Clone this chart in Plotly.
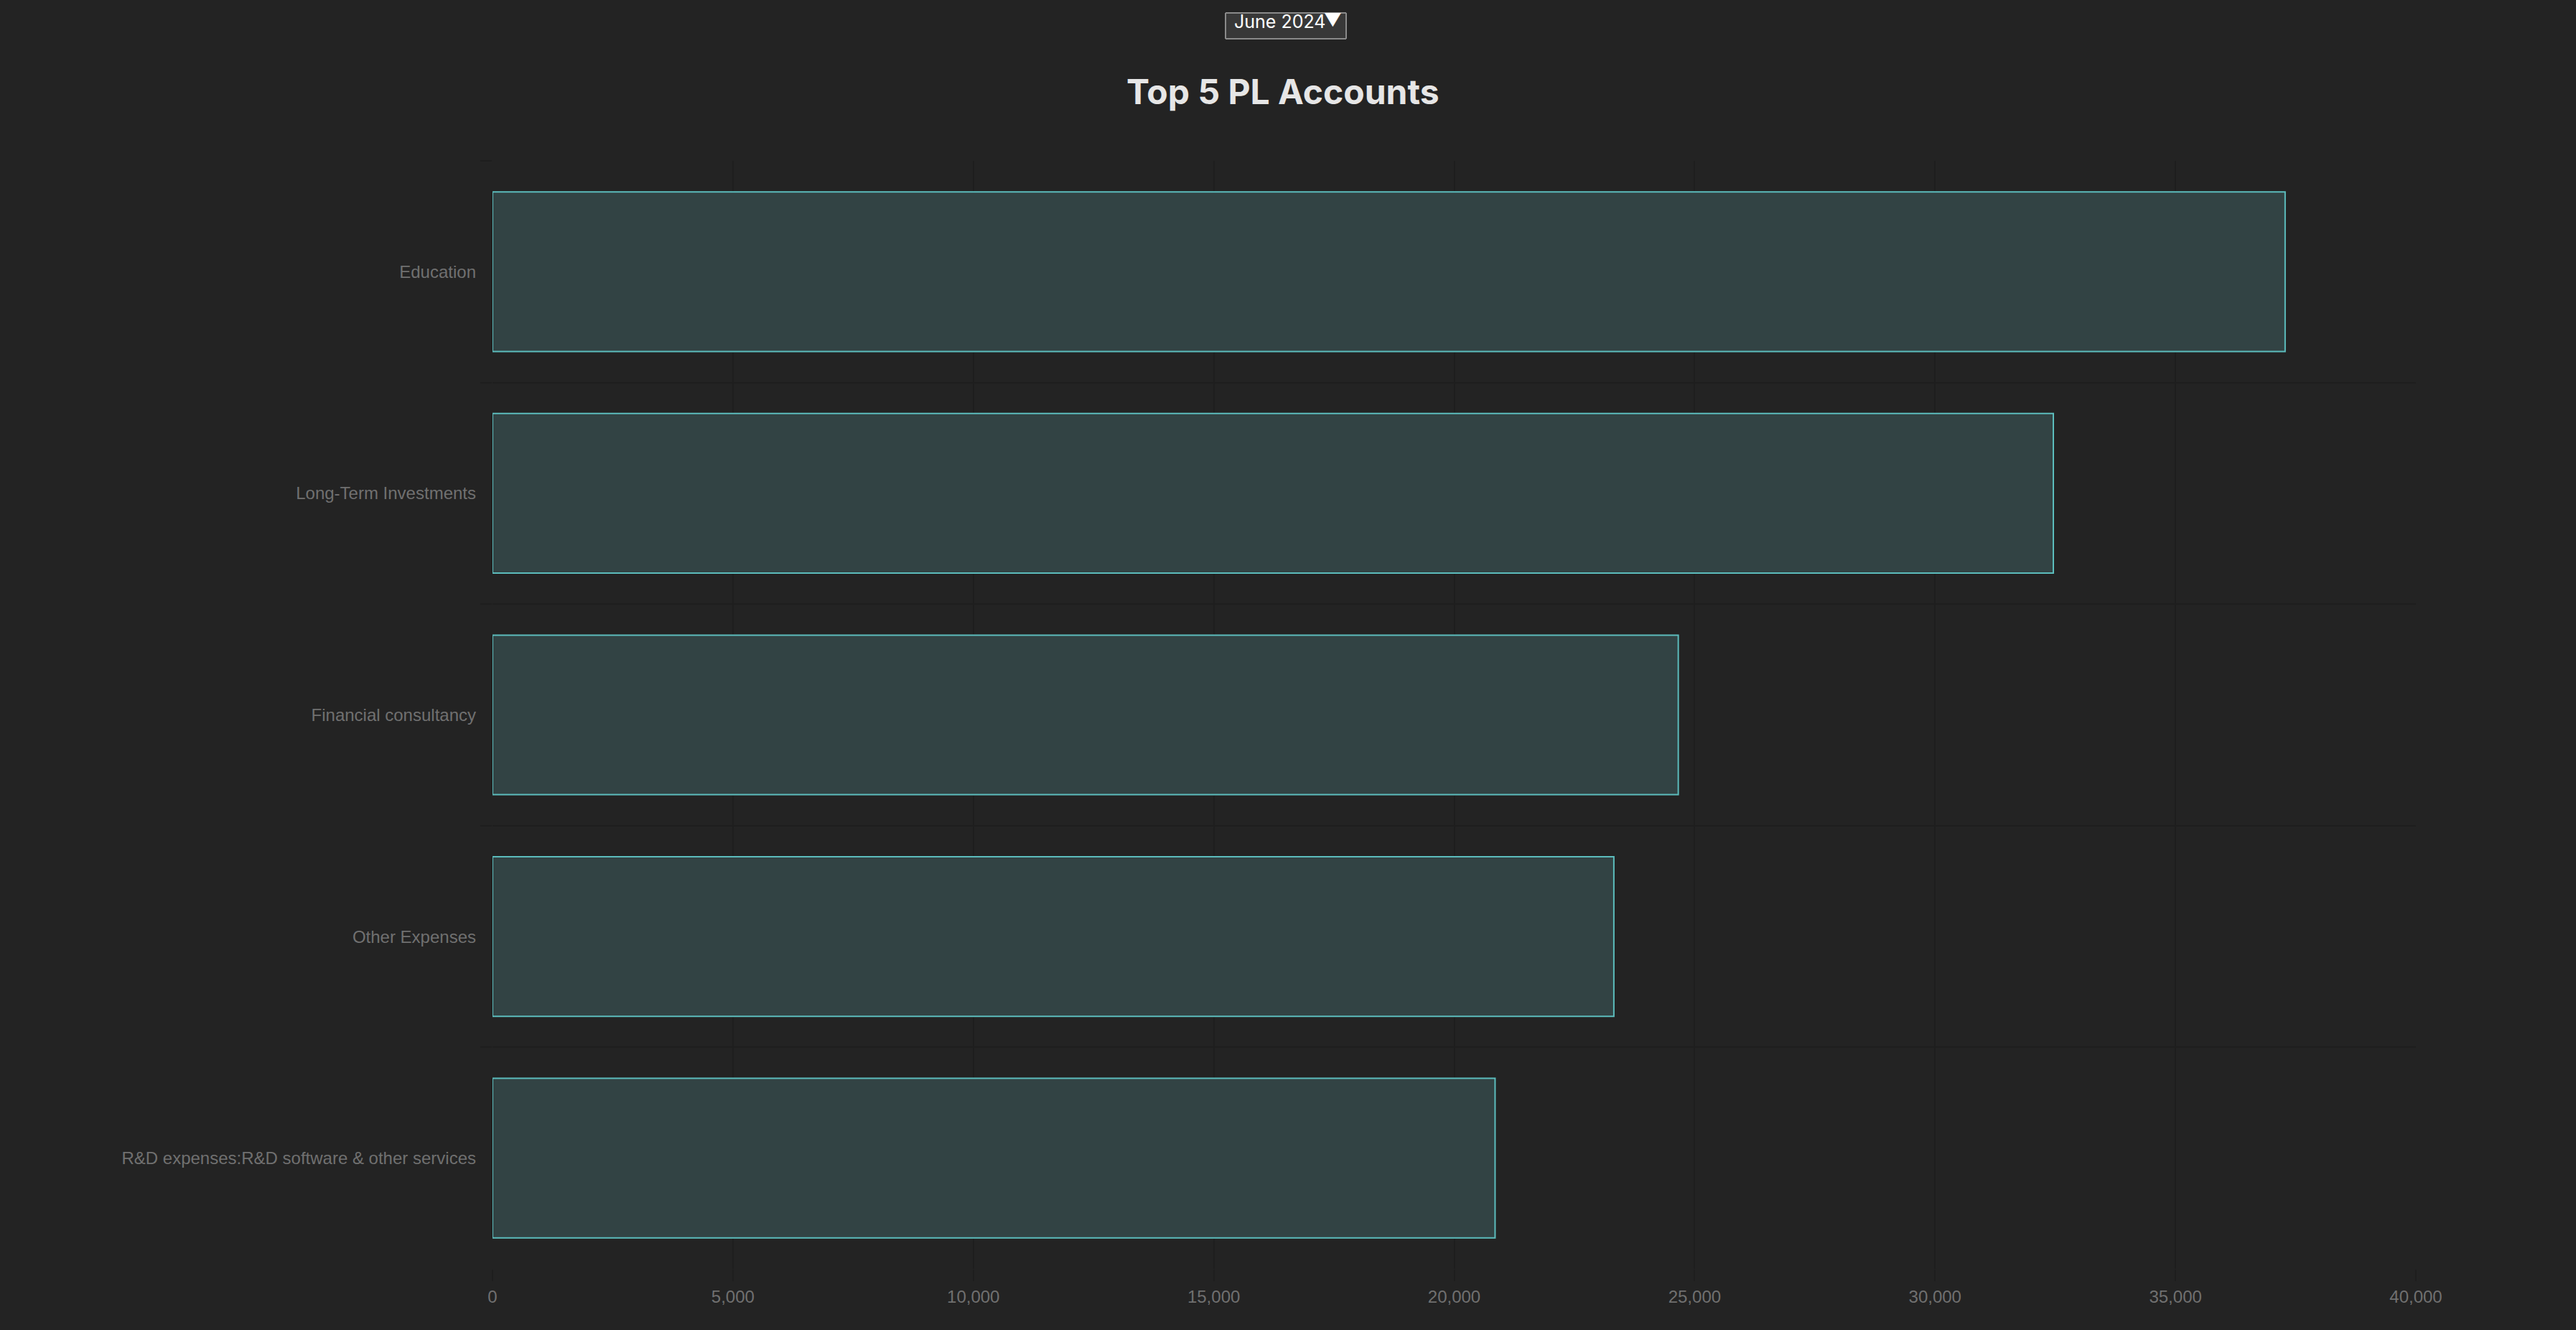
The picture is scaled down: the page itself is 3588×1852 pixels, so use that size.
import plotly.graph_objects as go

categories = ["Education", "Long-Term Investments", "Financial consultancy",
              "Other Expenses", "R&D expenses:R&D software & other services"]
values = [37280, 32460, 24660, 23320, 20850]
x_ticks = [0, 5000, 10000, 15000, 20000, 25000, 30000, 35000, 40000]
x_tick_labels = ["0", "5,000", "10,000", "15,000", "20,000", "25,000", "30,000", "35,000", "40,000"]
period_label = "June 2024"
title_text = "Top 5 PL Accounts"

BG = "#232323"
GRID = "#1e1e1e"
LABEL = "#707070"

W, H = 3588, 1852
ML, MR, MT, MB = 686, 223, 224, 85
PW, PH = W - ML - MR, H - MT - MB

fig = go.Figure(go.Bar(
    x=values, y=categories, orientation="h", width=0.72,
    marker=dict(color="#324344", line=dict(color="#5cbdbd", width=2)),
    hoverinfo="x+y",
))

fig.update_layout(
    width=W, height=H,
    paper_bgcolor=BG, plot_bgcolor=BG,
    margin=dict(l=ML, r=MR, t=MT, b=MB),
    showlegend=False,
    title=dict(text="<b>" + title_text + "</b>", x=0.498, xanchor="center", y=1 - 128/H, yanchor="middle",
               font=dict(family="Inter", size=48, color="#e6e6e6")),
    font=dict(family="Liberation Sans", color=LABEL),
    xaxis=dict(range=[0, 40000], tickvals=x_ticks, ticktext=x_tick_labels,
               showgrid=True, gridcolor=GRID, gridwidth=2, zeroline=False,
               ticks="outside", ticklen=16, tickcolor=GRID, tickwidth=2,
               ticklabelstandoff=1,
               tickfont=dict(size=24, color=LABEL, family="Liberation Sans"),
               showline=False, fixedrange=True),
    yaxis=dict(categoryorder="array", categoryarray=categories, autorange="reversed",
               tickson="boundaries", showgrid=True, gridcolor=GRID, gridwidth=2,
               ticks="outside", ticklen=16, tickcolor=GRID, tickwidth=2,
               ticklabelstandoff=22,
               tickfont=dict(size=24, color=LABEL, family="Liberation Sans"),
               showline=False, zeroline=False, fixedrange=True),
    updatemenus=[dict(
        type="dropdown", active=0, showactive=True,
        x=(1788.5 - ML) / PW, xanchor="center", y=(H - MB - 16) / PH, yanchor="top",
        bgcolor="#383838", bordercolor="#8a8a8a", borderwidth=2,
        font=dict(family="Inter", size=25, color="#ffffff"),
        pad=dict(t=0, b=0, l=0, r=0),
        buttons=[dict(label=period_label, method="skip", args=[None])],
    )],
)

fig.write_html("out.html")
